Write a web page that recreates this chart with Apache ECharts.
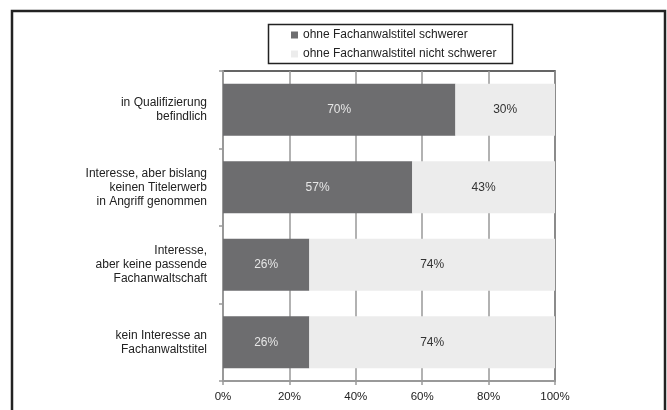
<!DOCTYPE html>
<html>
<head>
<meta charset="utf-8">
<script src="https://cdn.jsdelivr.net/npm/echarts@6/dist/echarts.min.js"></script>
<style>html,body{margin:0;padding:0;background:#fff;}#c{width:667px;height:410px;}</style>
</head>
<body>
<div id="c"></div>
<script>
const categories = [
  'in Qualifizierung\nbefindlich',
  'Interesse, aber bislang\nkeinen Titelerwerb\nin Angriff genommen',
  'Interesse,\naber keine passende\nFachanwaltschaft',
  'kein Interesse an\nFachanwaltstitel'
];
const seriesNames = ['ohne Fachanwalstitel schwerer', 'ohne Fachanwalstitel nicht schwerer'];
const schwerer = [70, 57, 26, 26];
const nichtSchwerer = [30, 43, 74, 74];

const chart = echarts.init(document.getElementById('c'), null, {renderer: 'canvas'});
const font = 'Liberation Sans, Arial, sans-serif';
chart.setOption({
  animation: false,
  backgroundColor: '#fff',
  textStyle: {fontFamily: font},
  graphic: [
    {type: 'rect', shape: {x: 12, y: 11, width: 653, height: 420}, style: {fill: 'none', stroke: '#222', lineWidth: 2.5}, z: 0},
    {type: 'rect', shape: {x: 268.5, y: 24.5, width: 244, height: 39}, style: {fill: 'none', stroke: '#222', lineWidth: 1.5}, z: 0}
  ],
  legend: {
    orient: 'vertical',
    left: 286,
    top: 23,
    itemWidth: 7,
    itemHeight: 7,
    itemGap: 5,
    icon: 'rect',
    textStyle: {fontSize: 12, color: '#222', fontFamily: font, lineHeight: 14},
    data: seriesNames
  },
  grid: {
    left: 223, right: 112, top: 71, bottom: 29,
    show: true, borderColor: '#333', borderWidth: 1.5
  },
  xAxis: {
    type: 'value', min: 0, max: 100, interval: 20,
    axisLine: {show: true, lineStyle: {color: '#999', width: 2}},
    axisTick: {show: true, length: 4, lineStyle: {color: '#999', width: 1.5}},
    splitLine: {show: true, lineStyle: {color: '#999', width: 1.5}},
    axisLabel: {formatter: '{value}%', fontSize: 11.5, color: '#222', margin: 10, fontFamily: font}
  },
  yAxis: {
    type: 'category', inverse: true, data: categories,
    axisLine: {show: true, lineStyle: {color: '#999', width: 2}},
    axisTick: {show: true, length: 4, lineStyle: {color: '#999', width: 1.5}},
    axisLabel: {fontSize: 12, color: '#222', lineHeight: 14, margin: 16, fontFamily: font, align: 'right'}
  },
  series: [
    {
      name: seriesNames[0], type: 'bar', stack: 'a', data: schwerer, barWidth: 52,
      itemStyle: {color: '#6d6d6f'},
      label: {show: true, position: 'inside', formatter: '{c}%', color: '#e6e6e6', fontSize: 12, fontFamily: font}
    },
    {
      name: seriesNames[1], type: 'bar', stack: 'a', data: nichtSchwerer, barWidth: 52,
      itemStyle: {color: '#ececec'},
      label: {show: true, position: 'inside', formatter: '{c}%', color: '#333', fontSize: 12, fontFamily: font}
    }
  ]
});
</script>
</body>
</html>
